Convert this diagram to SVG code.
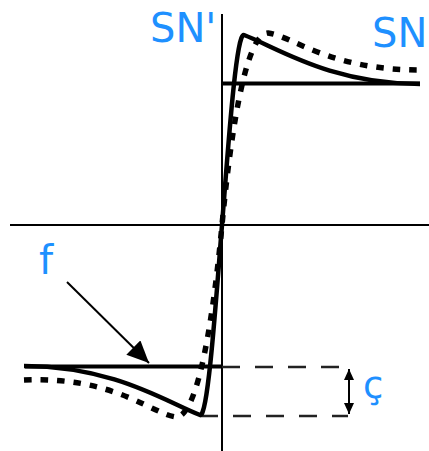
<svg xmlns="http://www.w3.org/2000/svg" width="429" height="451" viewBox="0 0 429 451">
<style>
.axis{stroke:#000;stroke-width:2;fill:none}
.level{stroke:#000;stroke-width:4;fill:none}
.solid{stroke:#000;stroke-width:4.5;fill:none;stroke-linejoin:round}
.dotted{stroke:#000;stroke-width:5.5;fill:none;stroke-dasharray:7.5 9}
.dash{stroke:#222;stroke-width:2.4;fill:none;stroke-dasharray:18 15}
.conn{stroke:#000;stroke-width:2;fill:none}
.lbl{font-family:"DejaVu Sans","Liberation Sans",sans-serif;fill:#1e90ff}
</style>
<defs>
<marker id="bigHead" viewBox="0 0 22 20" refX="22" refY="10" markerWidth="22" markerHeight="20" markerUnits="userSpaceOnUse" orient="auto">
<path d="M0,0 L22,10 L0,20 z" fill="#000"/>
</marker>
<marker id="smallHead" viewBox="0 0 11 10" refX="11" refY="5" markerWidth="11" markerHeight="10" markerUnits="userSpaceOnUse" orient="auto-start-reverse">
<path d="M0,0 L11,5 L0,10 z" fill="#000"/>
</marker>
</defs>
<g id="axes">
<line class="axis" x1="222" y1="14" x2="222" y2="451"/>
<line class="axis" x1="10" y1="225" x2="429" y2="225"/>
</g>
<g id="levels">
<line class="level" x1="222" y1="83.5" x2="420" y2="83.5"/>
<line class="level" x1="25" y1="366.5" x2="222" y2="366.5"/>
<line class="dash" x1="222" y1="367" x2="340" y2="367"/>
<line class="dash" x1="200" y1="416" x2="348" y2="416"/>
</g>
<g id="curve-solid">
<path class="solid" d="M24,366 C114,366 168,403 200,415 C208,418 216,300 222,225 C228,150 236,32 244,35 C276,47 330,84 420,84"/>
</g>
<g id="curve-dotted">
<path class="dotted" d="M24,380 C114,376 152,414 176,417 C199,417 214,310 222,225 C230,140 245,33 268,33 C292,36 330,70 420,70"/>
</g>
<g id="connectors">
<line class="conn" x1="67" y1="282" x2="149" y2="363" marker-end="url(#bigHead)"/>
<line class="conn" x1="349" y1="369" x2="349" y2="414" marker-start="url(#smallHead)" marker-end="url(#smallHead)"/>
</g>
<g id="label-SNp"><text class="lbl" x="150" y="42" font-size="40">SN'</text></g>
<g id="label-SN"><text class="lbl" x="372" y="47" font-size="40">SN</text></g>
<g id="label-f"><text class="lbl" x="39" y="274" font-size="40">f</text></g>
<g id="label-c"><text class="lbl" x="363" y="398" font-size="37">ç</text></g>
</svg>
